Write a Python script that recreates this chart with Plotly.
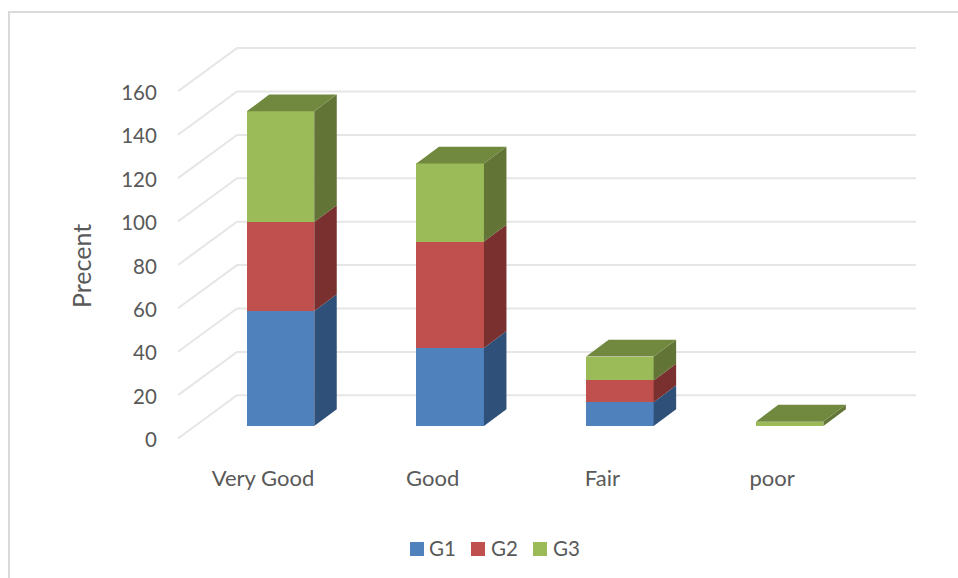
import numpy as np
import plotly.graph_objects as go

# Survey results, stacked by group
categories = ["Very Good", "Good", "Fair", "poor"]
g1 = [53, 36, 11, 0]
g2 = [41, 49, 10, 0]
g3 = [51, 36, 11, 2]
y_ticks = [0, 20, 40, 60, 80, 100, 120, 140, 160]

series = [("G1", g1, "#4f81bd", "#2f5179"),
          ("G2", g2, "#c0504d", "#79302e"),
          ("G3", g3, "#9bbb59", "#627536")]
TOP_COLOR = "#71893f"
GRID = "#e6e6e6"
TEXT = "#595959"
FONT = "Lato"

# Figure geometry in pixels
W, H = 958, 578
L, R, T, B = 178, 916, 30, 440
PX_PER_CAT = 169.7
PX_PER_UNIT = 2.17
FIRST_BAR = 280.5

xr = [(L - FIRST_BAR) / PX_PER_CAT, (R - FIRST_BAR) / PX_PER_CAT]
front_top = (B - T) / PX_PER_UNIT
plane_shift = 14 / PX_PER_UNIT          # bars stand behind the front edge of the floor
edge_shift = 1.5 / PX_PER_UNIT          # front end of the slanted side-wall lines
wall_shift = 44.7 / PX_PER_UNIT         # back wall, seen through the oblique projection
wall_x = (237 - FIRST_BAR) / PX_PER_CAT
bar_width = 67.5 / PX_PER_CAT
depth_x = 22.5 / PX_PER_CAT
depth_y = 16.8 / PX_PER_UNIT
label_shift = -17.5 / PX_PER_CAT

# Legend layout: left edge of each swatch and of each label
legend_swatch_x = [410, 471, 533]
legend_text_x = [427, 489, 551]
LEGEND_Y = 549
SWATCH = 14

fig = go.Figure()

# Back wall gridlines with their slanted continuation along the side wall
for v in y_ticks:
    fig.add_trace(go.Scatter(
        x=[xr[0], wall_x, xr[1]], y=[v + edge_shift, v + wall_shift, v + wall_shift],
        mode="lines", line=dict(color=GRID, width=2),
        hoverinfo="skip", showlegend=False, cliponaxis=False))

xpos = np.arange(len(categories), dtype=float)

# Front faces of the stacked columns
for name, vals, color, _ in series:
    fig.add_trace(go.Bar(
        x=xpos, y=vals, name=name, width=bar_width, xaxis="x2", yaxis="y2",
        marker=dict(color=color, line=dict(width=0))))

# Side faces and column tops, projected from the same stacked values
base = np.zeros(len(categories))
for idx, (name, vals, _, side) in enumerate(series):
    top = base + np.array(vals, dtype=float)
    for i, c in enumerate(xpos):
        if top[i] == base[i]:
            continue
        right = c + bar_width / 2
        fig.add_trace(go.Scatter(
            x=[right, right + depth_x, right + depth_x, right, right],
            y=[base[i], base[i] + depth_y, top[i] + depth_y, top[i], base[i]],
            mode="lines", fill="toself", fillcolor=side, line=dict(width=0),
            xaxis="x2", yaxis="y2", hoverinfo="skip", showlegend=False))
    base = top

for i, c in enumerate(xpos):
    left, right = c - bar_width / 2, c + bar_width / 2
    fig.add_trace(go.Scatter(
        x=[left, right, right + depth_x, left + depth_x, left],
        y=[base[i], base[i], base[i] + depth_y, base[i] + depth_y, base[i]],
        mode="lines", fill="toself", fillcolor=TOP_COLOR, line=dict(width=0),
        xaxis="x2", yaxis="y2", hoverinfo="skip", showlegend=False))

def px(x):
    return (x - L) / (R - L)

def py(y):
    return (B - y) / (B - T)

shapes = [dict(type="rect", xref="paper", yref="paper",
               x0=px(9), x1=px(W + 20), y0=py(12), y1=py(H + 20),
               line=dict(color="#d9d9d9", width=2), fillcolor="rgba(0,0,0,0)", layer="below")]
annotations = [dict(text="Precent", xref="paper", yref="paper", x=px(81), y=py(266),
                    textangle=-90, showarrow=False, xanchor="center", yanchor="middle",
                    font=dict(size=25, color=TEXT))]

# Compact legend row under the plot
for (name, _, color, _), sx, tx in zip(series, legend_swatch_x, legend_text_x):
    shapes.append(dict(type="rect", xref="paper", yref="paper",
                       x0=px(sx), x1=px(sx + SWATCH),
                       y0=py(LEGEND_Y - SWATCH / 2), y1=py(LEGEND_Y + SWATCH / 2),
                       line=dict(width=0), fillcolor=color))
    annotations.append(dict(text=name, xref="paper", yref="paper", x=px(tx), y=py(LEGEND_Y - 1.5),
                            showarrow=False, xanchor="left", yanchor="middle",
                            font=dict(size=20.5, color=TEXT)))

fig.update_layout(
    width=W, height=H,
    margin=dict(l=L, r=W - R, t=T, b=H - B, autoexpand=False),
    paper_bgcolor="white", plot_bgcolor="rgba(0,0,0,0)",
    font=dict(family=FONT, size=20.5, color=TEXT),
    barmode="stack",
    showlegend=False,
    xaxis=dict(range=xr, tickmode="array", tickvals=list(xpos + label_shift), ticktext=categories,
               showgrid=False, zeroline=False, showline=False, tickfont=dict(size=22),
               ticks="outside", ticklen=19, tickcolor="rgba(0,0,0,0)"),
    yaxis=dict(range=[0, front_top], tickmode="array", tickvals=y_ticks,
               showgrid=False, zeroline=False, showline=False,
               ticks="outside", ticklen=16, tickcolor="rgba(0,0,0,0)"),
    xaxis2=dict(range=xr, overlaying="x", visible=False),
    yaxis2=dict(range=[-plane_shift, front_top - plane_shift], overlaying="y", visible=False),
    shapes=shapes,
    annotations=annotations,
)

fig.write_html("out.html")
